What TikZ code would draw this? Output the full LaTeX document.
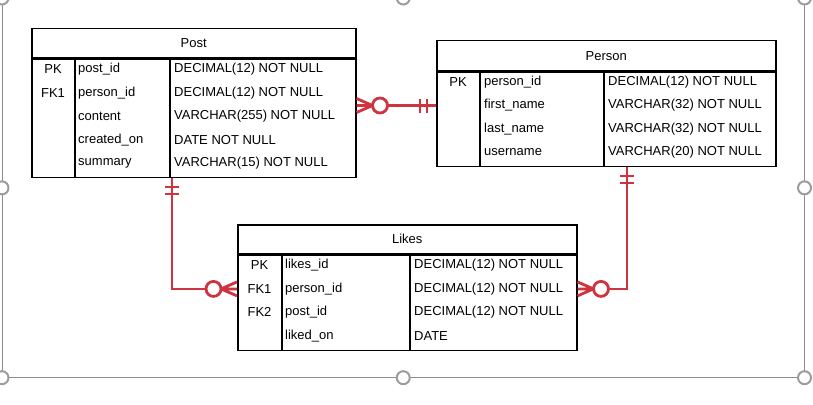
\documentclass[tikz,border=0pt]{standalone}
\usepackage{fontspec}
\newfontfamily\erfont{Liberation Sans}
\usepackage{tikz}
\usetikzlibrary{calc}
\definecolor{relred}{HTML}{CF3340}
\definecolor{framegray}{HTML}{8C8C8C}
\definecolor{handlegray}{HTML}{9C9C9C}
\tikzset{
  entityhead/.style={
    rectangle, draw=black, fill=white, line width=1.5pt,
    font=\erfont\fontsize{13}{15}\selectfont, inner sep=0pt,
    anchor=north west
  },
  entitybody/.style={
    rectangle, draw=black, fill=white, line width=1.5pt,
    inner sep=0pt, anchor=north
  },
  colline/.style={draw=black, line width=1.5pt},
  keytext/.style={font=\erfont\fontsize{13}{15}\selectfont, inner sep=0pt},
  fieldtext/.style={font=\erfont\fontsize{13}{15}\selectfont, inner sep=0pt,
    anchor=west},
  relline/.style={draw=relred, line width=2.8pt},
  selframe/.style={draw=framegray, line width=1pt},
  handle/.style={draw=handlegray, fill=white, line width=2pt},
  % ── relation ends ──
  zeromany/.pic={
    \draw[relline] (0,-7) -- (16,0) -- (0,7) (0,0) -- (16,0);
    \draw[relline, fill=white] (23.5,0) circle (7.5pt);
  },
  onlyone/.pic={
    \draw[relline] (9,-7) -- (9,7) (16,-7) -- (16,7);
  },
}
\begin{document}
\begin{tikzpicture}[x=1pt, y=-1pt]
  \useasboundingbox (0,0) rectangle (813,404);

  % selection frame
  \draw[selframe] (2,-2) rectangle (804.5,377.7);
  \foreach \hx/\hy in {2/-2, 403.25/-2, 804.5/-2, 2/187.85, 804.5/187.85,
                       2/377.7, 403.25/377.7, 804.5/377.7} {
    \draw[handle] (\hx,\hy) circle (6.5pt);
  }

  % Post
  \node[entityhead, minimum width=324pt, minimum height=29pt] (post) at (31,28) {Post};
  \node[entitybody, minimum width=324pt, minimum height=118pt] (postbody) at (post.south) {};
  \draw[colline] ([xshift=44pt]postbody.north west) -- ([xshift=44pt]postbody.south west);
  \draw[colline] ([xshift=139pt]postbody.north west) -- ([xshift=139pt]postbody.south west);
  \foreach \k/\n/\t [count=\i, evaluate=\i as \dy using -11-23.5*(\i-1)] in
    {PK/post\_id/DECIMAL(12) NOT NULL,
     FK1/person\_id/DECIMAL(12) NOT NULL,
     {}/content/VARCHAR(255) NOT NULL,
     {}/created\_on/DATE NOT NULL,
     {}/summary/VARCHAR(15) NOT NULL} {
    \node[keytext] (post-k\i) at ([xshift=22pt, yshift=\dy]postbody.north west) {\k};
    \node[fieldtext] (post-n\i) at ([xshift=47pt, yshift=\dy]postbody.north west) {\n};
    \node[fieldtext] (post-t\i) at ([xshift=143pt, yshift=\dy]postbody.north west) {\t};
  }

  % Person
  \node[entityhead, minimum width=339pt, minimum height=30pt] (pers) at (436,40) {Person};
  \node[entitybody, minimum width=339pt, minimum height=94pt] (persbody) at (pers.south) {};
  \draw[colline] ([xshift=44pt]persbody.north west) -- ([xshift=44pt]persbody.south west);
  \draw[colline] ([xshift=168pt]persbody.north west) -- ([xshift=168pt]persbody.south west);
  \foreach \k/\n/\t [count=\i, evaluate=\i as \dy using -10.5-23.5*(\i-1)] in
    {PK/person\_id/DECIMAL(12) NOT NULL,
     {}/first\_name/VARCHAR(32) NOT NULL,
     {}/last\_name/VARCHAR(32) NOT NULL,
     {}/username/VARCHAR(20) NOT NULL} {
    \node[keytext] (pers-k\i) at ([xshift=22pt, yshift=\dy]persbody.north west) {\k};
    \node[fieldtext] (pers-n\i) at ([xshift=48pt, yshift=\dy]persbody.north west) {\n};
    \node[fieldtext] (pers-t\i) at ([xshift=172pt, yshift=\dy]persbody.north west) {\t};
  }

  % Likes
  \node[entityhead, minimum width=339pt, minimum height=29pt] (likes) at (237,224) {Likes};
  \node[entitybody, minimum width=339pt, minimum height=95pt] (likesbody) at (likes.south) {};
  \draw[colline] ([xshift=45pt]likesbody.north west) -- ([xshift=45pt]likesbody.south west);
  \draw[colline] ([xshift=173pt]likesbody.north west) -- ([xshift=173pt]likesbody.south west);
  \foreach \k/\n/\t [count=\i, evaluate=\i as \dy using -11-23.4*(\i-1)] in
    {PK/likes\_id/DECIMAL(12) NOT NULL,
     FK1/person\_id/DECIMAL(12) NOT NULL,
     FK2/post\_id/DECIMAL(12) NOT NULL,
     {}/liked\_on/DATE} {
    \node[keytext] (likes-k\i) at ([xshift=22.5pt, yshift=\dy]likesbody.north west) {\k};
    \node[fieldtext] (likes-n\i) at ([xshift=48pt, yshift=\dy]likesbody.north west) {\n};
    \node[fieldtext] (likes-t\i) at ([xshift=177pt, yshift=\dy]likesbody.north west) {\t};
  }

  % relations
  \draw[relline] (postbody.east |- pers-n2) -- (persbody.west |- pers-n2);
  \draw[relline] ([xshift=141pt]postbody.south west) |- (likesbody.west |- likes-k2);
  \draw[relline] ([xshift=191pt]persbody.south west) |- (likesbody.east |- likes-k2);

  \pic at (postbody.east |- pers-n2) {zeromany};
  \pic[rotate=180] at (persbody.west |- pers-n2) {onlyone};
  \pic[rotate=-90] at ([xshift=141pt]postbody.south west) {onlyone};
  \pic[rotate=180] at (likesbody.west |- likes-k2) {zeromany};
  \pic[rotate=-90] at ([xshift=191pt]persbody.south west) {onlyone};
  \pic at (likesbody.east |- likes-k2) {zeromany};
\end{tikzpicture}
\end{document}
